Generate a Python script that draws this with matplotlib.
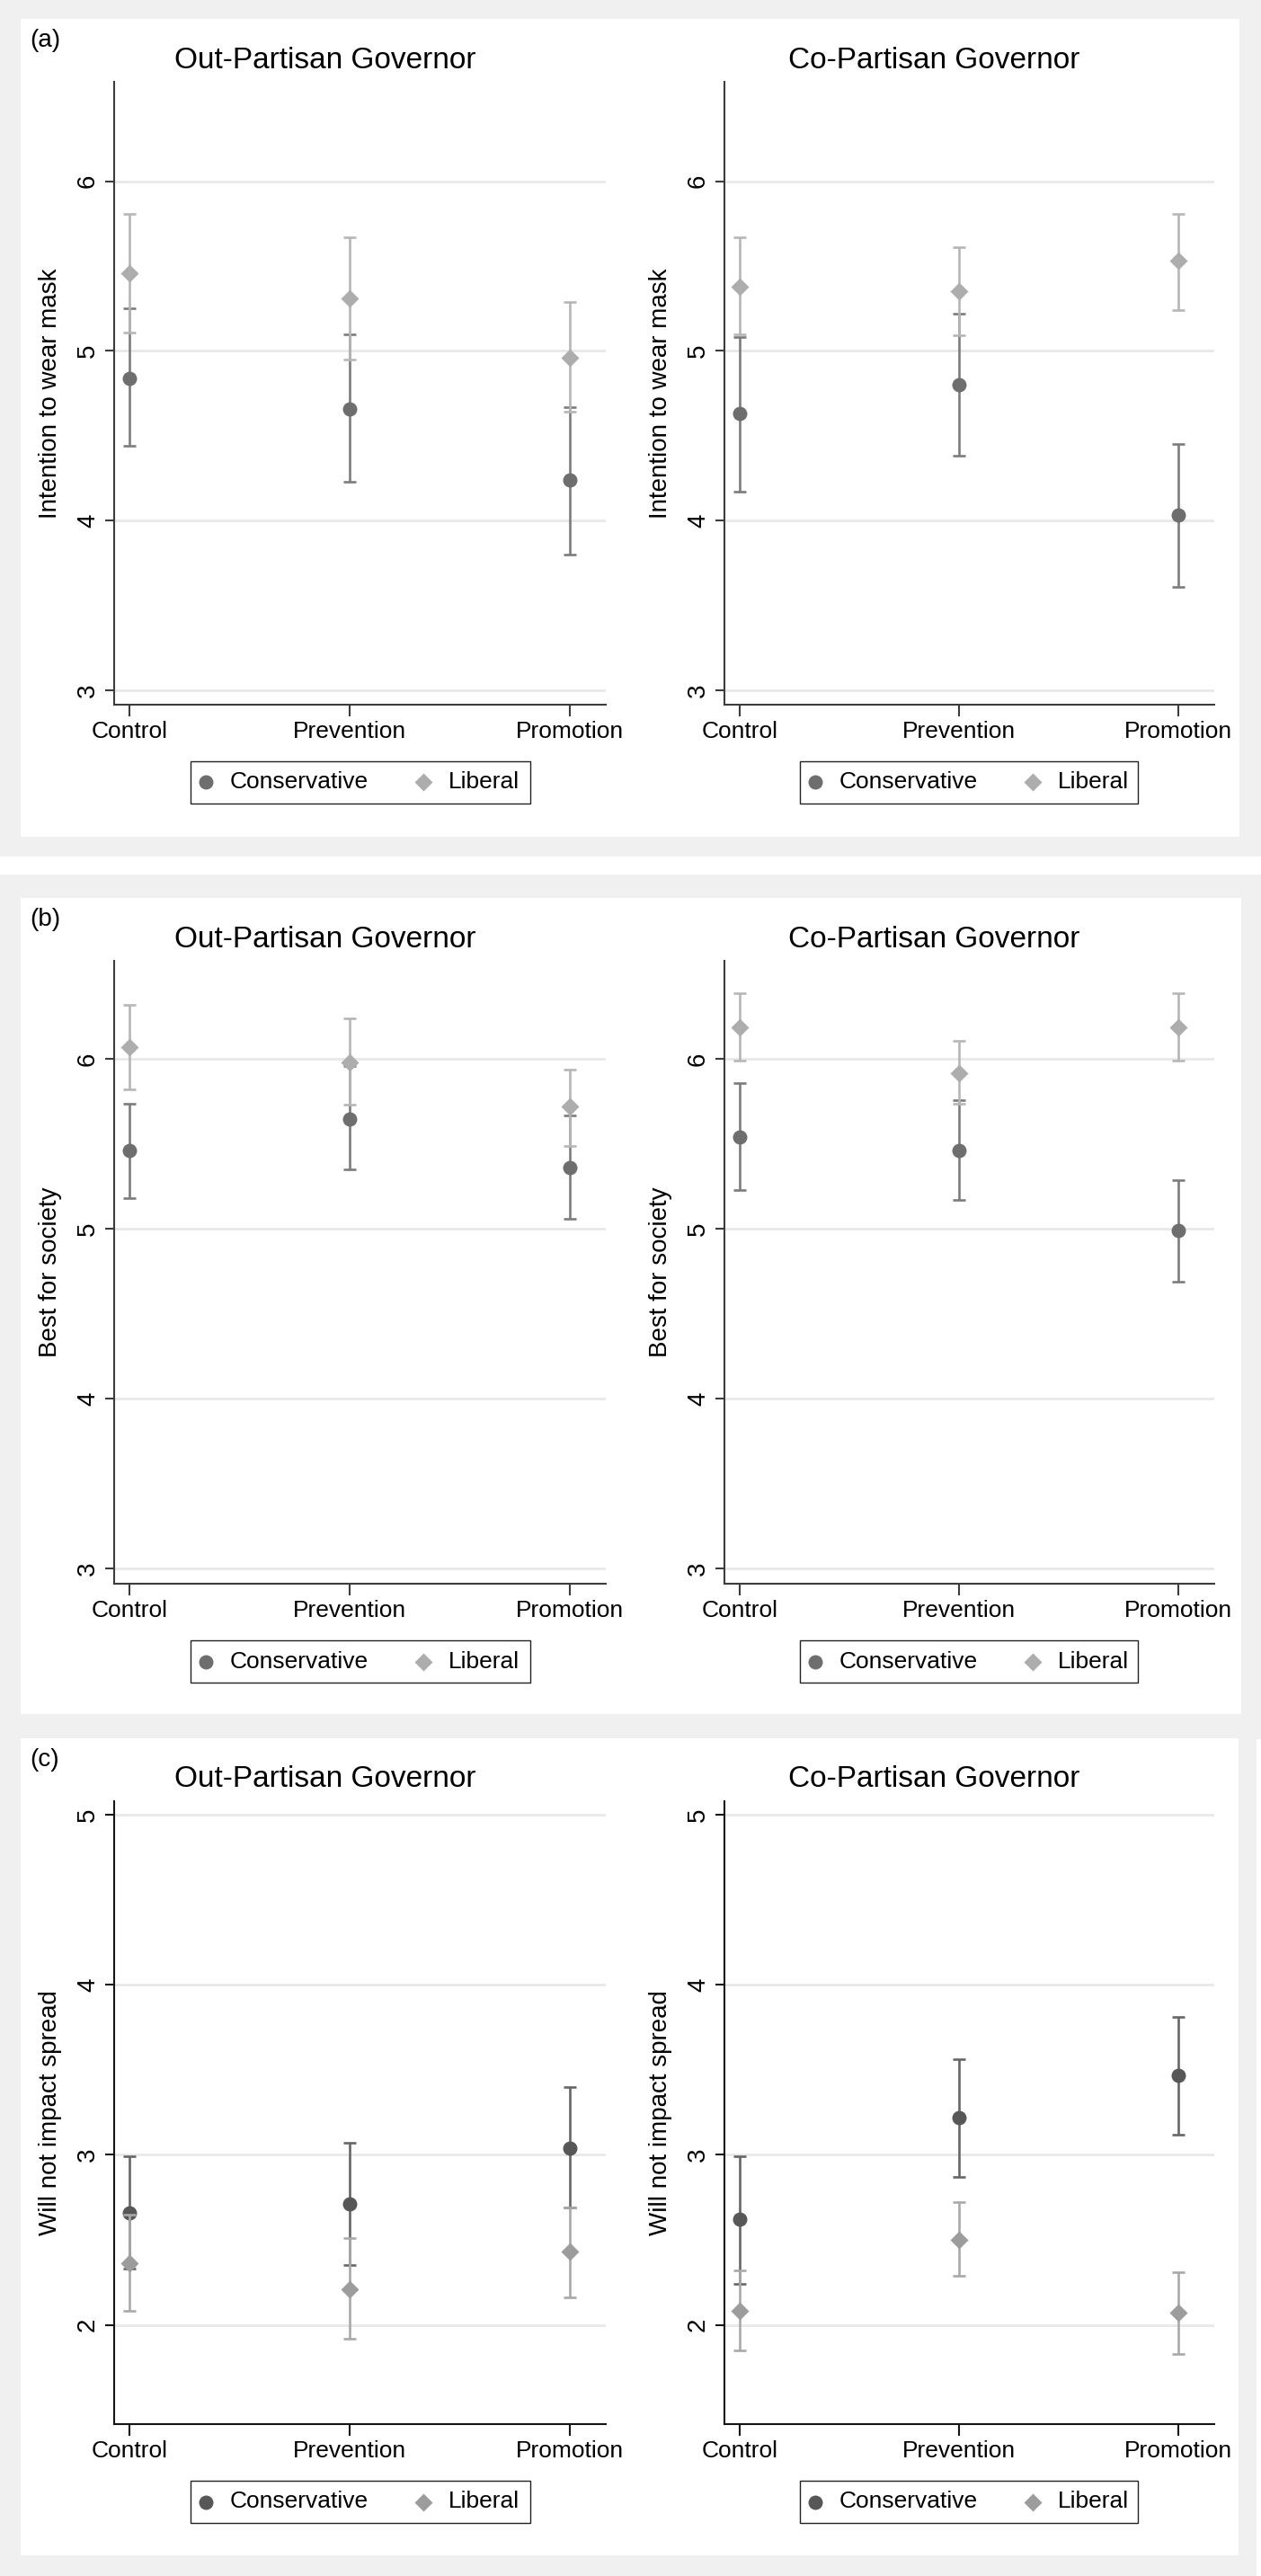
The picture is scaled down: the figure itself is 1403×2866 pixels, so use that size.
import matplotlib
matplotlib.use('Agg')
import matplotlib.pyplot as plt
from matplotlib.patches import Rectangle
from matplotlib.lines import Line2D

plt.rcParams['font.family'] = ['Liberation Sans', 'DejaVu Sans']

W, H = 1403, 2866

categories = ['Control', 'Prevention', 'Promotion']
series_names = ['Conservative', 'Liberal']

# (a) intention to wear mask
a_out_cons = [4.84, 4.66, 4.24]
a_out_cons_lo = [4.44, 4.23, 3.80]
a_out_cons_hi = [5.25, 5.10, 4.67]
a_out_lib = [5.46, 5.31, 4.96]
a_out_lib_lo = [5.11, 4.95, 4.64]
a_out_lib_hi = [5.81, 5.67, 5.29]

a_co_cons = [4.63, 4.80, 4.03]
a_co_cons_lo = [4.17, 4.38, 3.61]
a_co_cons_hi = [5.08, 5.22, 4.45]
a_co_lib = [5.38, 5.35, 5.53]
a_co_lib_lo = [5.10, 5.09, 5.24]
a_co_lib_hi = [5.67, 5.61, 5.81]

# (b) best for society
b_out_cons = [5.46, 5.65, 5.36]
b_out_cons_lo = [5.18, 5.35, 5.06]
b_out_cons_hi = [5.74, 5.96, 5.67]
b_out_lib = [6.07, 5.98, 5.72]
b_out_lib_lo = [5.82, 5.73, 5.49]
b_out_lib_hi = [6.32, 6.24, 5.94]

b_co_cons = [5.54, 5.46, 4.99]
b_co_cons_lo = [5.23, 5.17, 4.69]
b_co_cons_hi = [5.86, 5.76, 5.29]
b_co_lib = [6.19, 5.92, 6.19]
b_co_lib_lo = [5.99, 5.74, 5.99]
b_co_lib_hi = [6.39, 6.11, 6.39]

# (c) will not impact spread
c_out_cons = [2.66, 2.71, 3.04]
c_out_cons_lo = [2.33, 2.35, 2.69]
c_out_cons_hi = [2.99, 3.07, 3.40]
c_out_lib = [2.36, 2.21, 2.43]
c_out_lib_lo = [2.08, 1.92, 2.16]
c_out_lib_hi = [2.65, 2.51, 2.69]

c_co_cons = [2.62, 3.22, 3.47]
c_co_cons_lo = [2.24, 2.87, 3.12]
c_co_cons_hi = [2.99, 3.56, 3.81]
c_co_lib = [2.08, 2.50, 2.07]
c_co_lib_lo = [1.85, 2.29, 1.83]
c_co_lib_hi = [2.32, 2.72, 2.31]

ticks_ab = [3, 4, 5, 6]
ticks_c = [2, 3, 4, 5]

GRAY_BG = '#eff0ef'


def fig_rect(x0, y0, x1, y1):
    return [x0 / W, 1 - y1 / H, (x1 - x0) / W, (y1 - y0) / H]


def background(fig, outer, inner):
    ox0, oy0, ox1, oy1 = outer
    ix0, iy0, ix1, iy1 = inner
    fig.add_artist(Rectangle((ox0 / W, 1 - oy1 / H), (ox1 - ox0) / W, (oy1 - oy0) / H,
                             transform=fig.transFigure, facecolor=GRAY_BG, edgecolor='none', zorder=-10))
    fig.add_artist(Rectangle((ix0 / W, 1 - iy1 / H), (ix1 - ix0) / W, (iy1 - iy0) / H,
                             transform=fig.transFigure, facecolor='white', edgecolor='none', zorder=-9))


def draw_panel(fig, box, cons, cons_lo, cons_hi, lib, lib_lo, lib_hi,
               ylim, yticks, ylabel, colors, axis_color):
    ax = fig.add_axes(fig_rect(*box))
    ax.set_facecolor('none')
    x = list(range(len(categories)))
    cmark, cbar, lmark, lbar = colors

    ax.errorbar(x, cons, yerr=[[m - l for m, l in zip(cons, cons_lo)], [h - m for m, h in zip(cons, cons_hi)]],
                fmt='none', ecolor=cbar, elinewidth=1.9, capsize=5.2, capthick=1.9, zorder=3)
    ax.plot(x, cons, 'o', ms=11.5, color=cmark, mec='none', zorder=4)
    ax.errorbar(x, lib, yerr=[[m - l for m, l in zip(lib, lib_lo)], [h - m for m, h in zip(lib, lib_hi)]],
                fmt='none', ecolor=lbar, elinewidth=1.9, capsize=5.2, capthick=1.9, zorder=5)
    ax.plot(x, lib, 'D', ms=10.5, color=lmark, mec='none', zorder=6)

    ax.set_xlim(-0.07, 2.165)
    ax.set_ylim(*ylim)
    ax.set_xticks(x)
    ax.set_xticklabels(categories, fontsize=19)
    ax.set_yticks(yticks)
    ax.set_yticklabels([str(t) for t in yticks], fontsize=20, rotation=90, va='center')
    ax.grid(axis='y', color='#e8e8e8', lw=2)
    ax.set_axisbelow(True)
    for s in ['top', 'right']:
        ax.spines[s].set_visible(False)
    for s in ['left', 'bottom']:
        ax.spines[s].set_color(axis_color)
        ax.spines[s].set_linewidth(1.5)
    ax.tick_params(axis='x', length=9, width=1.5, color=axis_color, pad=4)
    ax.tick_params(axis='y', length=7.5, width=1.5, color=axis_color, pad=4)

    x0, y0, x1, y1 = box
    fig.text((x0 - 71) / W, 1 - (y0 + y1) / 2 / H, ylabel, rotation=90,
             ha='center', va='center', fontsize=20)
    return ax


def draw_legend(fig, x0, y0, x1, y1, colors):
    fig.add_artist(Rectangle((x0 / W, 1 - y1 / H), (x1 - x0) / W, (y1 - y0) / H,
                             transform=fig.transFigure, facecolor='white', edgecolor='#222222', lw=1.0))
    cy = 1 - (y0 + y1) / 2 / H
    fig.add_artist(Line2D([(x0 + 17) / W], [cy], marker='o', ms=11.5, color=colors[0], mec='none',
                          transform=fig.transFigure))
    fig.text((x0 + 44) / W, cy, series_names[0], ha='left', va='center', fontsize=19)
    fig.add_artist(Line2D([(x0 + 259) / W], [cy], marker='D', ms=10.5, color=colors[2], mec='none',
                          transform=fig.transFigure))
    fig.text((x0 + 287) / W, cy, series_names[1], ha='left', va='center', fontsize=19)


fig = plt.figure(figsize=(W / 100, H / 100), dpi=100)
fig.patch.set_facecolor('white')

colors_ab = ('#6e6e6e', '#7c7c7c', '#adadad', '#b6b6b6')
colors_c = ('#575757', '#666666', '#9c9c9c', '#a9a9a9')

rows = [
    # letter, outer, inner, top offset, ylabel, ylim, ticks, colors, axis colour, data
    ('(a)', (0, 0, 1403, 953), (23, 21, 1379, 931), 21, 'Intention to wear mask', (2.914, 6.587), ticks_ab,
     colors_ab, '#3c3c3c',
     [(a_out_cons, a_out_cons_lo, a_out_cons_hi, a_out_lib, a_out_lib_lo, a_out_lib_hi),
      (a_co_cons, a_co_cons_lo, a_co_cons_hi, a_co_lib, a_co_lib_lo, a_co_lib_hi)]),
    ('(b)', (0, 973, 1403, 1935), (23, 999, 1381, 1907), 999, 'Best for society', (2.909, 6.58), ticks_ab,
     colors_ab, '#3c3c3c',
     [(b_out_cons, b_out_cons_lo, b_out_cons_hi, b_out_lib, b_out_lib_lo, b_out_lib_hi),
      (b_co_cons, b_co_cons_lo, b_co_cons_hi, b_co_lib, b_co_lib_lo, b_co_lib_hi)]),
    ('(c)', (0, 1935, 1398, 2866), (23, 1934, 1378, 2843), 1934, 'Will not impact spread', (1.416, 5.08), ticks_c,
     colors_c, '#151515',
     [(c_out_cons, c_out_cons_lo, c_out_cons_hi, c_out_lib, c_out_lib_lo, c_out_lib_hi),
      (c_co_cons, c_co_cons_lo, c_co_cons_hi, c_co_lib, c_co_lib_lo, c_co_lib_hi)]),
]

titles = ['Out-Partisan Governor', 'Co-Partisan Governor']
title_x = [362, 1039]
ax_x = [(127, 674), (806, 1351)]
legend_x = [(212, 590), (890, 1266)]

for letter, outer, inner, top, ylabel, ylim, yticks, colors, axc, data in rows:
    background(fig, outer, inner)
    fig.text(33 / W, 1 - (top + 24) / H, letter, ha='left', va='center', fontsize=20)
    ax_top = top + 70
    ax_bot = top + 763
    for i in range(2):
        fig.text(title_x[i] / W, 1 - (top + 46) / H, titles[i], ha='center', va='center', fontsize=24)
        draw_panel(fig, (ax_x[i][0], ax_top, ax_x[i][1], ax_bot), *data[i], ylim, yticks, ylabel, colors, axc)
        draw_legend(fig, legend_x[i][0], top + 826, legend_x[i][1], top + 873, colors)

fig.savefig('out.png', dpi=100, facecolor='white')
